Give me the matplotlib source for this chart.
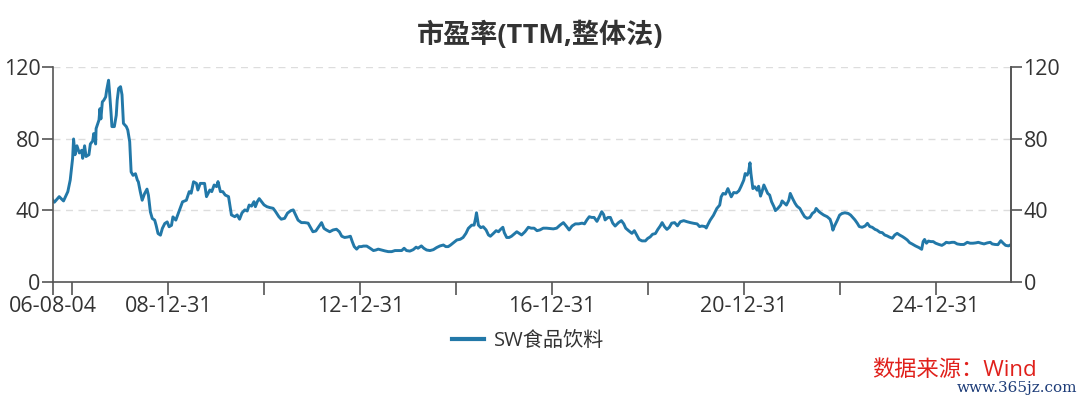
import matplotlib
matplotlib.use("Agg")
import matplotlib.pyplot as plt
import numpy as np
import pandas as pd
from datetime import datetime, timedelta

plt.rcParams['font.family'] = ['Open Sans', 'Noto Sans CJK SC', 'DejaVu Sans']

# ---- data (decimal year, PE TTM) ----
years = [
    2006.59, 2006.62, 2006.72, 2006.81, 2006.90, 2006.95, 2007.00, 2007.02, 2007.05, 2007.09,
    2007.14, 2007.19, 2007.21, 2007.25, 2007.28, 2007.34, 2007.37, 2007.42, 2007.44, 2007.48,
    2007.49, 2007.55, 2007.57, 2007.59, 2007.62, 2007.65, 2007.69, 2007.71, 2007.75, 2007.77,
    2007.80, 2007.82, 2007.87, 2007.91, 2007.93, 2007.96, 2008.00, 2008.03, 2008.06, 2008.12,
    2008.15, 2008.19, 2008.22, 2008.26, 2008.31, 2008.35, 2008.37, 2008.41, 2008.45, 2008.50,
    2008.55, 2008.58, 2008.62, 2008.66, 2008.71, 2008.74, 2008.78, 2008.83, 2008.87, 2008.92,
    2008.97, 2009.01, 2009.06, 2009.09, 2009.15, 2009.20, 2009.25, 2009.29, 2009.37, 2009.43,
    2009.47, 2009.52, 2009.58, 2009.61, 2009.66, 2009.75, 2009.79, 2009.86, 2009.90, 2009.95,
    2010.00, 2010.03, 2010.08, 2010.13, 2010.18, 2010.25, 2010.31, 2010.38, 2010.43, 2010.48,
    2010.53, 2010.59, 2010.64, 2010.68, 2010.73, 2010.78, 2010.81, 2010.85, 2010.89, 2010.94,
    2010.99, 2011.05, 2011.11, 2011.18, 2011.23, 2011.30, 2011.35, 2011.42, 2011.48, 2011.55,
    2011.60, 2011.65, 2011.70, 2011.77, 2011.84, 2011.91, 2011.97, 2012.01, 2012.07, 2012.13,
    2012.19, 2012.24, 2012.29, 2012.36, 2012.43, 2012.50, 2012.56, 2012.61, 2012.67, 2012.74,
    2012.79, 2012.83, 2012.87, 2012.92, 2012.97, 2013.02, 2013.06, 2013.13, 2013.20, 2013.27,
    2013.32, 2013.37, 2013.44, 2013.51, 2013.58, 2013.65, 2013.72, 2013.79, 2013.86, 2013.91,
    2013.96, 2014.03, 2014.10, 2014.16, 2014.20, 2014.27, 2014.32, 2014.38, 2014.45, 2014.52,
    2014.59, 2014.66, 2014.73, 2014.78, 2014.83, 2014.88, 2014.94, 2015.01, 2015.08, 2015.14,
    2015.20, 2015.25, 2015.32, 2015.37, 2015.40, 2015.42, 2015.46, 2015.51, 2015.56, 2015.62,
    2015.67, 2015.71, 2015.77, 2015.83, 2015.88, 2015.91, 2015.97, 2016.00, 2016.05, 2016.10,
    2016.15, 2016.20, 2016.26, 2016.31, 2016.36, 2016.43, 2016.50, 2016.56, 2016.62, 2016.68,
    2016.74, 2016.81, 2016.88, 2016.95, 2017.02, 2017.09, 2017.16, 2017.23, 2017.30, 2017.35,
    2017.41, 2017.48, 2017.55, 2017.62, 2017.67, 2017.72, 2017.77, 2017.82, 2017.87, 2017.93,
    2017.98, 2018.03, 2018.07, 2018.10, 2018.16, 2018.21, 2018.26, 2018.31, 2018.38, 2018.44,
    2018.49, 2018.53, 2018.59, 2018.66, 2018.71, 2018.76, 2018.81, 2018.87, 2018.94, 2018.99,
    2019.04, 2019.09, 2019.15, 2019.20, 2019.25, 2019.29, 2019.34, 2019.39, 2019.44, 2019.49,
    2019.55, 2019.61, 2019.67, 2019.74, 2019.81, 2019.88, 2019.95, 2020.02, 2020.07, 2020.12,
    2020.18, 2020.21, 2020.24, 2020.29, 2020.36, 2020.43, 2020.49, 2020.52, 2020.56, 2020.61,
    2020.66, 2020.70, 2020.73, 2020.78, 2020.84, 2020.89, 2020.93, 2020.99, 2021.02, 2021.06,
    2021.09, 2021.12, 2021.14, 2021.18, 2021.22, 2021.27, 2021.30, 2021.34, 2021.37, 2021.41,
    2021.44, 2021.49, 2021.53, 2021.57, 2021.62, 2021.65, 2021.70, 2021.76, 2021.79, 2021.84,
    2021.88, 2021.93, 2021.96, 2022.01, 2022.06, 2022.10, 2022.16, 2022.21, 2022.26, 2022.31,
    2022.37, 2022.42, 2022.47, 2022.50, 2022.56, 2022.61, 2022.66, 2022.73, 2022.79, 2022.82,
    2022.85, 2022.88, 2022.94, 2022.99, 2023.04, 2023.10, 2023.17, 2023.22, 2023.25, 2023.31,
    2023.36, 2023.40, 2023.46, 2023.52, 2023.57, 2023.62, 2023.67, 2023.73, 2023.77, 2023.83,
    2023.88, 2023.93, 2023.98, 2024.03, 2024.09, 2024.14, 2024.19, 2024.24, 2024.30, 2024.35,
    2024.40, 2024.45, 2024.50, 2024.57, 2024.64, 2024.70, 2024.73, 2024.76, 2024.80, 2024.84,
    2024.89, 2024.94, 2024.99, 2025.06, 2025.12, 2025.17, 2025.21, 2025.27, 2025.33, 2025.38,
    2025.44, 2025.51, 2025.58, 2025.65, 2025.71, 2025.77, 2025.83, 2025.88, 2025.94, 2026.00,
    2026.07, 2026.13, 2026.17, 2026.23, 2026.29, 2026.35, 2026.40, 2026.45, 2026.51, 2026.56,
]
pe_values = [
    45.6, 44.5, 47.6, 45.2, 50.4, 56.9, 69.0, 79.8, 71.0, 76.0,
    72.0, 73.5, 69.0, 76.0, 70.0, 71.0, 77.0, 78.7, 82.8, 77.0,
    85.6, 90.4, 96.7, 91.0, 100.5, 101.4, 103.3, 107.0, 112.6, 106.0,
    95.0, 86.7, 86.7, 93.0, 101.4, 108.0, 109.0, 104.5, 88.5, 86.7,
    84.8, 78.3, 61.4, 59.5, 60.4, 56.8, 55.9, 50.4, 45.6, 49.3,
    51.8, 48.4, 39.1, 35.4, 34.5, 31.6, 27.0, 26.1, 29.9, 32.6,
    33.5, 30.8, 31.6, 36.3, 34.5, 38.2, 41.9, 44.7, 45.6, 50.4,
    49.5, 55.9, 55.0, 51.3, 55.0, 55.0, 47.6, 51.3, 50.4, 54.1,
    53.2, 56.0, 50.4, 50.4, 48.5, 47.6, 37.4, 36.4, 37.4, 35.0,
    38.5, 40.2, 39.6, 42.9, 42.3, 44.8, 42.0, 44.8, 46.5, 44.8,
    43.0, 42.0, 41.5, 41.1, 39.3, 36.4, 35.0, 35.5, 38.4, 39.8,
    40.2, 37.4, 34.5, 33.1, 33.1, 32.8, 29.9, 28.0, 28.4, 30.8,
    33.1, 29.9, 29.0, 28.0, 29.0, 29.4, 28.0, 25.5, 24.8, 25.1,
    25.5, 22.4, 19.7, 18.3, 19.7, 19.7, 20.0, 20.0, 18.8, 17.5,
    17.8, 18.3, 17.8, 17.3, 16.9, 16.9, 17.5, 17.5, 17.5, 18.8,
    17.5, 17.2, 18.0, 19.4, 18.8, 20.1, 18.8, 17.8, 17.5, 18.0,
    19.2, 20.1, 20.6, 19.7, 19.7, 20.6, 21.9, 23.4, 23.8, 24.8,
    27.1, 29.9, 31.7, 31.7, 35.4, 38.6, 31.7, 30.3, 30.8, 29.0,
    26.2, 25.5, 27.0, 28.6, 28.0, 29.0, 30.5, 27.5, 24.8, 24.8,
    25.5, 26.6, 28.0, 27.1, 26.2, 28.0, 30.5, 30.0, 30.0, 28.6,
    29.0, 30.0, 30.0, 29.8, 29.6, 30.0, 31.7, 33.1, 30.8, 29.0,
    31.2, 32.4, 32.4, 32.8, 32.4, 34.6, 36.4, 36.0, 36.0, 33.8,
    36.4, 39.2, 37.6, 34.6, 36.0, 36.0, 32.8, 31.2, 33.1, 34.2,
    32.4, 30.0, 28.6, 27.1, 28.6, 26.2, 23.7, 22.9, 22.9, 24.3,
    25.1, 26.6, 27.0, 29.3, 31.2, 33.1, 30.8, 29.3, 30.5, 32.8,
    33.1, 31.3, 33.6, 34.2, 33.6, 33.1, 32.7, 32.4, 30.9, 31.2,
    30.9, 30.1, 31.8, 34.4, 37.2, 41.0, 42.9, 47.5, 49.4, 49.0,
    52.1, 49.4, 47.5, 49.9, 49.7, 50.9, 53.1, 56.8, 60.5, 59.6,
    61.4, 66.5, 60.5, 52.1, 53.1, 51.2, 53.4, 47.9, 50.3, 54.1,
    52.3, 49.4, 48.5, 44.8, 42.0, 39.8, 41.0, 42.9, 45.2, 43.9,
    42.9, 45.6, 49.4, 46.5, 43.9, 42.3, 41.0, 38.6, 36.4, 35.5,
    36.0, 38.2, 39.2, 41.0, 39.2, 38.2, 37.3, 36.4, 35.0, 32.6,
    28.9, 31.0, 34.3, 37.3, 38.2, 38.6, 38.2, 37.3, 36.4, 34.6,
    32.7, 30.9, 30.5, 31.2, 32.7, 30.9, 30.5, 29.3, 28.9, 27.7,
    27.5, 26.2, 25.7, 25.0, 24.4, 26.2, 27.1, 26.2, 25.3, 24.4,
    23.4, 21.9, 21.2, 20.1, 19.2, 18.2, 22.5, 23.7, 21.6, 22.8,
    22.5, 22.5, 21.6, 20.9, 20.4, 21.2, 22.1, 21.8, 22.1, 22.1,
    21.2, 20.9, 20.9, 22.1, 21.6, 21.6, 21.8, 22.1, 21.6, 21.2,
    21.8, 22.1, 21.2, 20.9, 20.8, 23.0, 21.6, 20.4, 20.1, 20.8,
]
series_name = "SW食品饮料"
title_text = "市盈率(TTM,整体法)"
tick_dates = ["2006-08-04", "2006-12-31", "2008-12-31", "2010-12-31", "2012-12-31",
              "2014-12-31", "2016-12-31", "2018-12-31", "2020-12-31", "2022-12-31", "2024-12-31"]
tick_labels = ["06-08-04", "", "08-12-31", "", "12-12-31",
               "", "16-12-31", "", "20-12-31", "", "24-12-31"]
y_ticks = [0, 40, 80, 120]
source_text = "数据来源：Wind"
watermark_text = "www.365jz.com"


def to_dt(y):
    yi = int(y)
    start = datetime(yi, 1, 1)
    days = (datetime(yi + 1, 1, 1) - start).days
    return start + timedelta(days=(y - yi) * days)


dates = [to_dt(y) for y in years]
dates[0] = datetime(2006, 8, 4)

fig = plt.figure(figsize=(10.8, 4.01), dpi=100)
ax = fig.add_axes([0.049, 0.297, 0.887, 0.536])

line_color = "#2278a8"
axis_color = "#555555"
text_color = "#333333"

ax.plot(dates, pe_values, color=line_color, lw=2.1, label=series_name, solid_joinstyle="round")
ax.set_xlim(dates[0], dates[-1])
ax.set_ylim(0, 120)
ax.set_yticks(y_ticks)
ax.set_yticklabels([str(v) for v in y_ticks])
for v in y_ticks[1:]:
    ax.axhline(v, color="#dddddd", lw=1, ls=(0, (5, 4)), zorder=0)

ax.set_xticks([datetime.strptime(d, "%Y-%m-%d") for d in tick_dates])
ax.set_xticklabels(tick_labels)

ax.spines["top"].set_visible(False)
for s in ["left", "bottom", "right"]:
    ax.spines[s].set_color(axis_color)
    ax.spines[s].set_linewidth(1.2)

ax.tick_params(axis="x", length=9, width=1.2, color=axis_color, labelsize=15.5,
               labelcolor=text_color, pad=1)
ax.tick_params(axis="y", length=8, width=1.2, color=axis_color, labelsize=15.5,
               labelcolor=text_color, pad=1)

ax2 = ax.twinx()
ax2.set_ylim(0, 120)
ax2.set_yticks(y_ticks)
ax2.set_yticklabels([str(v) for v in y_ticks])
for s in ["top", "left", "bottom"]:
    ax2.spines[s].set_visible(False)
ax2.spines["right"].set_color(axis_color)
ax2.spines["right"].set_linewidth(1.2)
ax2.tick_params(axis="y", length=8, width=1.2, color=axis_color, labelsize=15.5,
                labelcolor=text_color, pad=1)

fig.text(0.5, 0.913, title_text, ha="center", va="center", fontsize=19.5,
         fontweight="bold", color=text_color)

leg = fig.legend(loc="center", bbox_to_anchor=(0.489, 0.150), frameon=False,
                 fontsize=14.5, handlelength=1.6, handletextpad=0.5)
for t in leg.get_texts():
    t.set_color(text_color)
for h in leg.get_lines():
    h.set_linewidth(3)

fig.text(0.884, 0.077, source_text, ha="center", va="center", fontsize=16,
         color="#e0201b")
fig.text(0.997, 0.032, watermark_text, ha="right", va="center", fontsize=11,
         color="#1d3c78", family="DejaVu Serif")

fig.savefig("out.png", dpi=100)
